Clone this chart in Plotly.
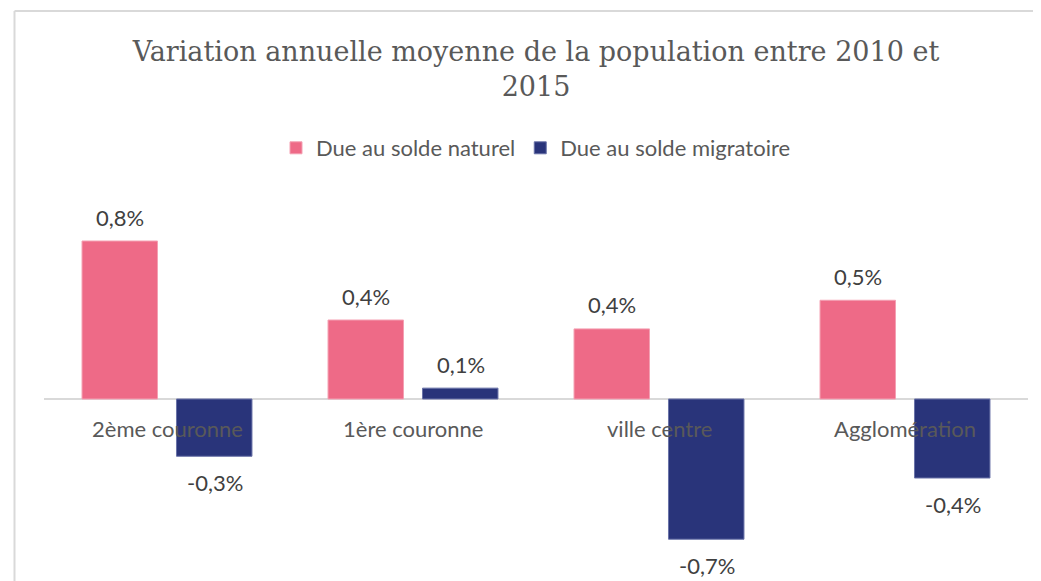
import plotly.graph_objects as go

categories = ["2ème couronne", "1ère couronne", "ville centre", "Agglomération"]
solde_naturel = [0.80, 0.40, 0.355, 0.50]
solde_migratoire = [-0.29, 0.055, -0.71, -0.40]
series_names = ["Due au solde naturel", "Due au solde migratoire"]
title_text = "Variation annuelle moyenne de la population entre 2010 et<br>2015"

PINK = "#EE6A87"
BLUE = "#29347A"
SANS = "Lato, 'Open Sans', sans-serif"
SERIF = "'DejaVu Serif', 'Liberation Serif', serif"

# page body has an 8px margin; figure sized to fill the rest of the window
W, H = 1033, 573
ML, MR, MT, MB = 36, 13, 162, 0
zero_px = 391
px_per_unit = 197.5
y_max = (zero_px - MT) / px_per_unit
y_min = -((H - MB) - zero_px) / px_per_unit
PH = H - MT - MB
PW = W - ML - MR

fig = go.Figure()
fig.add_trace(go.Bar(x=categories, y=solde_naturel, name=series_names[0],
                     marker=dict(color=PINK, line=dict(color="#F4A0B3", width=1))))
fig.add_trace(go.Bar(x=categories, y=solde_migratoire, name=series_names[1],
                     marker=dict(color=BLUE, line=dict(color="#6A73A8", width=1))))

annotations = []
for series, shift in ((solde_naturel, -47.5), (solde_migratoire, 47.5)):
    for cat, v in zip(categories, series):
        label = f"{v:.1f}".replace(".", ",") + "%"
        annotations.append(dict(x=cat, y=v, xref="x", yref="y", text=label,
                                showarrow=False, xshift=shift,
                                yshift=24 if v >= 0 else -26,
                                font=dict(family=SANS, size=22, color="#404040")))
for cat in categories:
    annotations.append(dict(x=cat, y=0, xref="x", yref="y", text=cat,
                            showarrow=False, yshift=-29,
                            font=dict(family=SANS, size=22, color="#595959")))

top_paper = 1 + (MT - 3) / PH
left_paper = (6.5 - ML) / PW
shapes = [
    dict(type="line", xref="paper", yref="paper", x0=left_paper, x1=1.1,
         y0=top_paper, y1=top_paper, line=dict(color="#D9D9D9", width=2)),
    dict(type="line", xref="paper", yref="paper", x0=left_paper, x1=left_paper,
         y0=top_paper, y1=-0.2, line=dict(color="#D9D9D9", width=2)),
]

fig.update_layout(
    width=W, height=H,
    margin=dict(l=ML, r=MR, t=MT, b=MB),
    paper_bgcolor="white", plot_bgcolor="white",
    barmode="group", bargap=0.232, bargroupgap=0.201,
    title=dict(text=title_text, xref="paper", x=0.5, xanchor="center",
               yref="container", y=1 - 53 / H, yanchor="top",
               font=dict(family=SERIF, size=27, color="#595959")),
    legend=dict(orientation="h", xref="paper", x=0.5, xanchor="center",
                yref="paper", y=1 + (MT - 140) / PH, yanchor="middle",
                font=dict(family=SANS, size=22, color="#595959"),
                itemwidth=30, traceorder="normal"),
    xaxis=dict(showticklabels=False, showgrid=False, showline=False, ticks=""),
    yaxis=dict(range=[y_min, y_max], showticklabels=False, showgrid=False,
               zeroline=True, zerolinecolor="#D9D9D9", zerolinewidth=2),
    annotations=annotations,
    shapes=shapes,
    hovermode=False,
)

fig.write_html("out.html")
